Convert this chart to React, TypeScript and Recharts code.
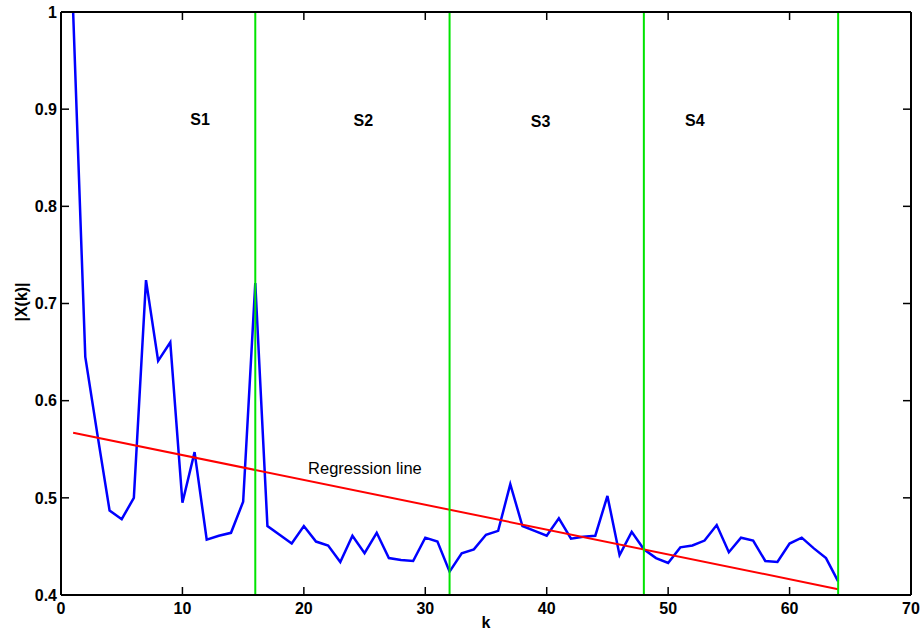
import {
  ComposedChart, Line, XAxis, YAxis, ReferenceLine, ReferenceDot,
} from 'recharts';

// spectrum magnitude |X(k)| for k = 1..64
const K_VALUES = [
  1, 2, 3, 4, 5, 6, 7, 8, 9, 10, 11, 12, 13, 14, 15, 16,
  17, 18, 19, 20, 21, 22, 23, 24, 25, 26, 27, 28, 29, 30, 31, 32,
  33, 34, 35, 36, 37, 38, 39, 40, 41, 42, 43, 44, 45, 46, 47, 48,
  49, 50, 51, 52, 53, 54, 55, 56, 57, 58, 59, 60, 61, 62, 63, 64,
];
const MAGNITUDE = [
  1.0, 0.645, 0.565, 0.487, 0.478, 0.5, 0.724, 0.641, 0.66, 0.495, 0.547, 0.457, 0.461, 0.464, 0.496, 0.721,
  0.471, 0.462, 0.453, 0.471, 0.455, 0.451, 0.434, 0.461, 0.443, 0.464, 0.438, 0.436, 0.435, 0.459, 0.455, 0.424,
  0.443, 0.447, 0.462, 0.466, 0.514, 0.471, 0.466, 0.461, 0.479, 0.458, 0.46, 0.461, 0.502, 0.441, 0.465, 0.447,
  0.438, 0.433, 0.449, 0.451, 0.456, 0.472, 0.444, 0.459, 0.456, 0.435, 0.434, 0.453, 0.459, 0.448, 0.438, 0.414,
];

// regression line end points
const REG_K = [1, 64];
const REG_VALUES = [0.567, 0.406];

// segment borders
const SEGMENT_BOUNDS = [16, 32, 48, 64];
const SEGMENT_LABELS = ['S1', 'S2', 'S3', 'S4'];

const X_TICKS = [0, 10, 20, 30, 40, 50, 60, 70];
const Y_TICKS = [0.4, 0.5, 0.6, 0.7, 0.8, 0.9, 1];

const FONT = '"Liberation Sans", Arial, Helvetica, sans-serif';

const lineData = K_VALUES.map((k, i) => ({ k, mag: MAGNITUDE[i] }));
const regData = REG_K.map((k, i) => ({ k, reg: REG_VALUES[i] }));

// label anchors (data coords)
const segLabelPos = [
  { k: 11.45, v: 0.89 },
  { k: 24.9, v: 0.889 },
  { k: 39.5, v: 0.887 },
  { k: 52.2, v: 0.889 },
];

const TICK_LEN = 8;

function BottomTick({ x, y, payload }: any) {
  return (
    <g>
      <line x1={x} x2={x} y1={y} y2={y - TICK_LEN} stroke="#000" strokeWidth={1.5} />
      <text x={x} y={y + 18.5} textAnchor="middle" fontFamily={FONT} fontSize={16} fontWeight="bold" fill="#000">
        {payload.value}
      </text>
    </g>
  );
}

function TopTick({ x, y }: any) {
  return <line x1={x} x2={x} y1={y} y2={y + TICK_LEN} stroke="#000" strokeWidth={1.5} />;
}

function LeftTick({ x, y, payload }: any) {
  return (
    <g>
      <line x1={x} x2={x + TICK_LEN} y1={y} y2={y} stroke="#000" strokeWidth={1.5} />
      <text x={x - 4} y={y + 5.8} textAnchor="end" fontFamily={FONT} fontSize={16} fontWeight="bold" fill="#000">
        {String(payload.value)}
      </text>
    </g>
  );
}

function RightTick({ x, y }: any) {
  return <line x1={x} x2={x - TICK_LEN} y1={y} y2={y} stroke="#000" strokeWidth={1.5} />;
}

export default function App() {
  const axisLine = { stroke: '#000', strokeWidth: 2 };
  return (
    <div style={{ position: 'absolute', left: 0, top: 0, width: 923, height: 632, background: '#fff' }}>
      <ComposedChart width={923} height={632} margin={{ top: 0, right: 0, bottom: 0, left: 0 }}>
        <XAxis
          xAxisId="b" dataKey="k" type="number" domain={[0, 70]} ticks={X_TICKS}
          allowDataOverflow orientation="bottom" height={37}
          tickSize={0} tickMargin={0} tickLine={false} axisLine={axisLine} tick={<BottomTick />}
          label={{ value: 'k', position: 'insideBottom', offset: 4, fontFamily: FONT, fontSize: 16, fontWeight: 'bold', fill: '#000' }}
        />
        <XAxis
          xAxisId="t" dataKey="k" type="number" domain={[0, 70]} ticks={X_TICKS}
          allowDataOverflow orientation="top" height={12}
          tickSize={0} tickMargin={0} tickLine={false} axisLine={axisLine} tick={<TopTick />}
        />
        <YAxis
          yAxisId="l" type="number" domain={[0.4, 1]} ticks={Y_TICKS} allowDataOverflow
          orientation="left" width={61}
          tickSize={0} tickMargin={0} tickLine={false} axisLine={axisLine} tick={<LeftTick />}
          label={{
            content: () => (
              <text x={21.5} y={302} transform="rotate(-90 21.5 302)" textAnchor="middle"
                dominantBaseline="central" fontFamily={FONT} fontSize={16} fontWeight="bold" fill="#000">
                |X(k)|
              </text>
            ),
          }}
        />
        <YAxis
          yAxisId="r" type="number" domain={[0.4, 1]} ticks={Y_TICKS} allowDataOverflow
          orientation="right" width={12}
          tickSize={0} tickMargin={0} tickLine={false} axisLine={axisLine} tick={<RightTick />}
        />

        <Line
          xAxisId="b" yAxisId="l" data={lineData} dataKey="mag" type="linear"
          stroke="#0000ff" strokeWidth={2.5} dot={false} isAnimationActive={false}
        />
        <Line
          xAxisId="b" yAxisId="l" data={regData} dataKey="reg" type="linear"
          stroke="#ff0000" strokeWidth={2} dot={false} isAnimationActive={false}
        />

        {SEGMENT_BOUNDS.map((b) => (
          <ReferenceLine key={b} xAxisId="b" yAxisId="l" x={b} stroke="#00e400" strokeWidth={2} />
        ))}

        {SEGMENT_LABELS.map((s, i) => (
          <ReferenceDot
            key={s} xAxisId="b" yAxisId="l" x={segLabelPos[i].k} y={segLabelPos[i].v}
            r={0} fill="none" stroke="none"
            label={{ value: s, position: 'center', fontFamily: FONT, fontSize: 16, fontWeight: 'bold', fill: '#000' }}
          />
        ))}
        <ReferenceDot
          xAxisId="b" yAxisId="l" x={25.03} y={0.5307} r={0} fill="none" stroke="none"
          label={{ value: 'Regression line', position: 'center', fontFamily: FONT, fontSize: 16.5, fill: '#000' }}
        />
      </ComposedChart>
    </div>
  );
}
